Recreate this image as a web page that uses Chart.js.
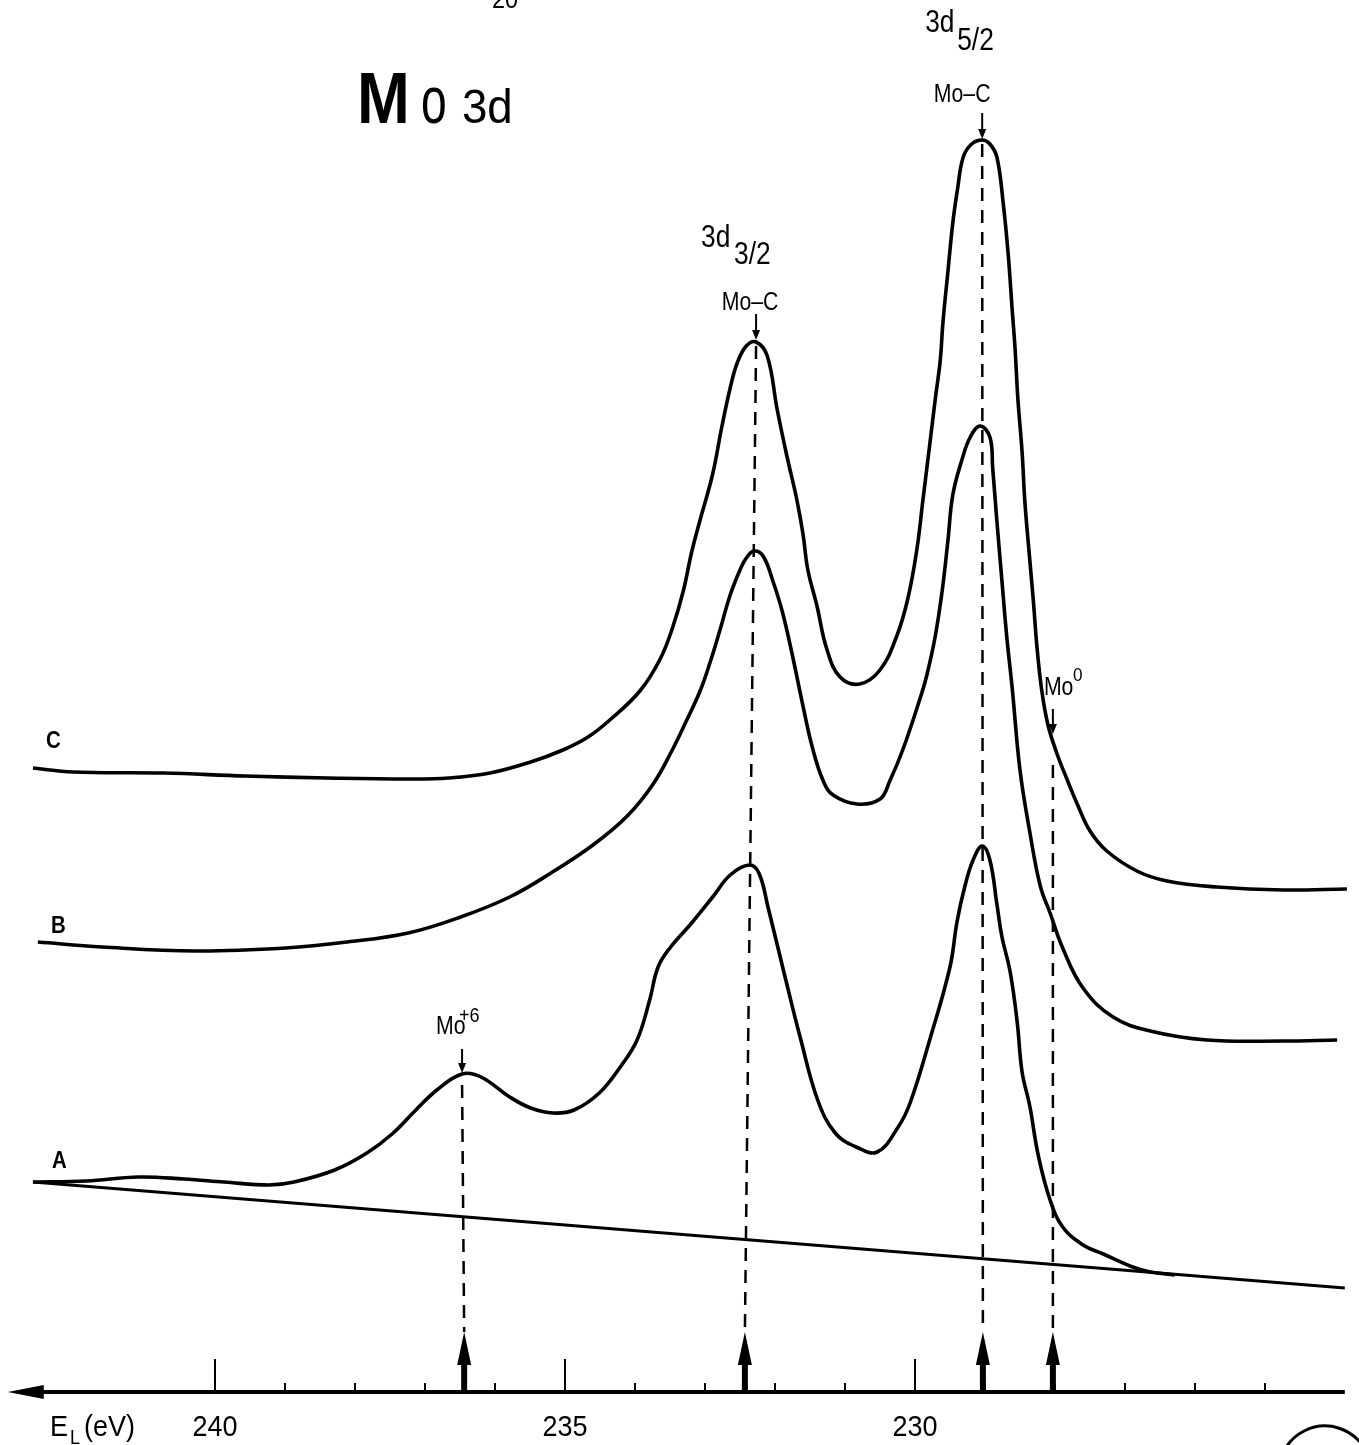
<!DOCTYPE html>
<html>
<head>
<meta charset="utf-8">
<title>Mo 3d</title>
<script src="https://cdn.jsdelivr.net/npm/chart.js@4.4.1/dist/chart.umd.min.js"></script>
<style>
  body { margin: 0; background: #fff; }
  #wrap { width: 1359px; height: 1445px; }
</style>
</head>
<body>
<div id="wrap"><canvas id="xps" width="1359" height="1445"></canvas></div>
<script>
// binding energy (eV) and intensity (arb. units, 0 = energy axis)
const energyC = [242.60, 242.03, 240.74, 239.57, 238.40, 237.24, 236.66, 236.07, 235.49, 235.03,
  234.67, 234.36, 233.93, 233.64, 233.46, 233.31, 233.19, 233.07, 232.89, 232.76,
  232.64, 232.54, 232.41, 232.27, 232.11, 231.97, 231.83, 231.69, 231.60, 231.53,
  231.40, 231.26, 231.07, 230.79, 230.50, 230.26, 230.10, 229.97, 229.89, 229.79,
  229.71, 229.64, 229.60, 229.53, 229.46, 229.39, 229.31, 229.19, 229.04, 228.93,
  228.83, 228.74, 228.67, 228.61, 228.57, 228.53, 228.47, 228.43, 228.36, 228.31,
  228.26, 228.19, 228.10, 227.97, 227.83, 227.67, 227.50, 227.26, 226.83, 226.40,
  225.69, 224.74, 223.83];
const countsC = [62.4, 62.0, 61.9, 61.6, 61.4, 61.3, 61.4, 61.9, 63.0, 64.2,
  65.5, 67.2, 70.1, 73.3, 76.5, 80.1, 84.0, 87.2, 91.8, 96.5,
  100.4, 102.9, 104.6, 105.0, 103.6, 98.3, 93.6, 89.3, 85.8, 82.2,
  78.6, 74.3, 71.5, 70.8, 72.2, 75.6, 79.4, 84.4, 89.0, 94.7,
  99.3, 103.1, 107.0, 112.0, 116.9, 120.4, 123.5, 124.8, 125.2, 124.8,
  123.5, 118.9, 113.9, 108.1, 104.3, 99.3, 94.0, 89.0, 83.2, 79.2,
  74.7, 70.2, 66.7, 63.8, 61.3, 58.6, 56.1, 54.1, 52.1, 51.1,
  50.5, 50.2, 50.3];

const energyB = [242.53, 241.61, 240.27, 238.99, 238.11, 237.24, 236.49, 235.79, 235.20, 234.60,
  234.11, 233.74, 233.46, 233.26, 233.07, 232.93, 232.79, 232.64, 232.50, 232.41,
  232.30, 232.17, 232.03, 231.89, 231.74, 231.60, 231.46, 231.31, 231.17, 230.83,
  230.50, 230.36, 230.17, 229.93, 229.83, 229.71, 229.61, 229.53, 229.46, 229.33,
  229.21, 229.07, 228.93, 228.89, 228.83, 228.76, 228.69, 228.61, 228.50, 228.36,
  228.21, 228.07, 227.89, 227.60, 227.17, 226.64, 225.83, 224.74, 223.97];
const countsB = [45.0, 44.5, 44.1, 44.4, 45.0, 45.9, 47.5, 49.5, 51.9, 54.7,
  57.6, 60.8, 64.3, 67.2, 70.1, 72.9, 76.1, 79.7, 82.2, 83.4,
  84.1, 83.6, 81.1, 77.9, 73.3, 68.6, 64.3, 61.1, 59.7, 58.8,
  59.3, 61.1, 64.3, 69.3, 71.7, 75.6, 80.2, 85.1, 89.7, 93.2,
  95.5, 96.6, 95.5, 92.4, 87.1, 81.3, 75.6, 70.3, 62.2, 56.0,
  50.6, 47.9, 44.4, 40.4, 37.5, 36.1, 35.2, 35.1, 35.2];

const energyA = [242.60, 241.84, 241.09, 240.44, 239.87, 239.23, 238.87, 238.29, 237.83, 237.47,
  237.13, 236.83, 236.47, 236.20, 235.79, 235.49, 235.17, 234.87, 234.51, 234.21,
  233.97, 233.79, 233.67, 233.49, 233.19, 232.89, 232.64, 232.37, 232.23, 232.10,
  231.87, 231.63, 231.39, 231.14, 230.84, 230.54, 230.24, 230.07, 229.79, 229.50,
  229.40, 229.29, 229.17, 229.04, 228.93, 228.83, 228.76, 228.64, 228.54, 228.47,
  228.36, 228.24, 228.07, 227.89, 227.60, 227.31, 226.89, 226.64, 226.29];
const countsA = [21.0, 21.1, 21.5, 21.3, 21.0, 20.7, 21.0, 22.2, 23.9, 25.8,
  28.2, 30.2, 31.8, 31.5, 29.5, 28.4, 27.9, 28.2, 29.9, 32.5,
  35.2, 39.2, 42.5, 44.5, 46.9, 49.5, 51.7, 52.7, 51.9, 48.5,
  41.9, 35.2, 29.2, 25.9, 24.5, 24.0, 26.5, 28.9, 35.2, 42.5,
  47.0, 50.5, 53.2, 54.6, 53.2, 48.8, 45.6, 42.0, 37.0, 32.0,
  28.6, 23.7, 19.2, 16.5, 14.7, 13.8, 12.5, 12.0, 11.7];

// linear background under spectrum A
const baseEnergy = [242.60, 223.86];
const baseCounts = [21.0, 10.4];

// marked components: energy of the arrow on the axis, and where the dashed guide starts
const peakNames = ['Mo+6', 'Mo-C 3d3/2', 'Mo-C 3d5/2', 'Mo0'];
const peakEnergy = [236.44, 232.43, 229.03, 228.03];
const peakTopEnergy = [236.47, 232.27, 229.04, 228.03];
const peakTopCounts = [30.7, 104.6, 124.8, 62.7];
const guideBottom = 6.0;

const tickValues = [240, 239, 238, 237, 236, 235, 234, 233, 232, 231, 230, 229, 228, 227, 226, 225];
const tickLabels = ['240', '235', '230'];
const labelValues = [240, 235, 230];

const toPoints = (xs, ys) => xs.map((x, i) => ({ x: x, y: ys[i] }));

function spectrum(label, xs, ys) {
  return {
    label: label,
    data: toPoints(xs, ys),
    borderColor: '#000',
    borderWidth: 3.6,
    pointRadius: 0,
    tension: 0.4,
    fill: false
  };
}

const datasets = [
  spectrum('C', energyC, countsC),
  spectrum('B', energyB, countsB),
  spectrum('A', energyA, countsA),
  {
    label: 'background',
    data: toPoints(baseEnergy, baseCounts),
    borderColor: '#000',
    borderWidth: 3,
    pointRadius: 0,
    tension: 0
  }
];

peakNames.forEach((name, i) => {
  datasets.push({
    label: name,
    data: [{ x: peakTopEnergy[i], y: peakTopCounts[i] }, { x: peakEnergy[i], y: guideBottom }],
    borderColor: '#000',
    borderWidth: 2.5,
    borderDash: [13, 9],
    pointRadius: 0,
    tension: 0
  });
});

function text(ctx, s, x, y, font, sx, align) {
  ctx.save();
  ctx.font = font;
  ctx.textAlign = align || 'left';
  ctx.textBaseline = 'alphabetic';
  ctx.translate(x, y);
  ctx.scale(sx, 1);
  ctx.fillText(s, 0, 0);
  ctx.restore();
}

function downArrow(ctx, x, yFrom, yTip) {
  ctx.lineWidth = 2;
  ctx.beginPath();
  ctx.moveTo(x, yFrom);
  ctx.lineTo(x, yTip - 8);
  ctx.stroke();
  ctx.beginPath();
  ctx.moveTo(x - 4, yTip - 10);
  ctx.lineTo(x + 4, yTip - 10);
  ctx.lineTo(x, yTip);
  ctx.closePath();
  ctx.fill();
}

const FONT = '"Liberation Sans", Arial, sans-serif';

const decorations = {
  id: 'decorations',
  afterDatasetsDraw(chart) {
    const ctx = chart.ctx;
    const xs = chart.scales.x;
    const ys = chart.scales.y;
    const y0 = ys.getPixelForValue(0);
    ctx.save();
    ctx.fillStyle = '#000';
    ctx.strokeStyle = '#000';

    // energy axis, arrow toward higher binding energy
    const xl = xs.getPixelForValue(242.96);
    const xr = xs.getPixelForValue(223.86);
    ctx.lineWidth = 4;
    ctx.beginPath();
    ctx.moveTo(xl + 30, y0);
    ctx.lineTo(xr, y0);
    ctx.stroke();
    ctx.beginPath();
    ctx.moveTo(xl, y0);
    ctx.lineTo(xl + 36, y0 - 7);
    ctx.lineTo(xl + 36, y0 + 7);
    ctx.closePath();
    ctx.fill();

    ctx.lineWidth = 2;
    tickValues.forEach(v => {
      const px = xs.getPixelForValue(v);
      const len = labelValues.includes(v) ? 33 : 9;
      ctx.beginPath();
      ctx.moveTo(px, y0);
      ctx.lineTo(px, y0 - len);
      ctx.stroke();
    });
    labelValues.forEach((v, i) => {
      text(ctx, tickLabels[i], xs.getPixelForValue(v), y0 + 44, '30px ' + FONT, 0.9, 'center');
    });
    text(ctx, 'E', 50, y0 + 44, '30px ' + FONT, 0.9);
    text(ctx, 'L', 70, y0 + 52, '20px ' + FONT, 0.9);
    text(ctx, '(eV)', 84, y0 + 44, '30px ' + FONT, 0.9);

    // thick arrows on the axis
    peakEnergy.forEach(e => {
      const px = xs.getPixelForValue(e);
      ctx.fillRect(px - 3, y0 - 28, 6, 28);
      ctx.beginPath();
      ctx.moveTo(px - 7, y0 - 27);
      ctx.lineTo(px + 7, y0 - 27);
      ctx.lineTo(px, y0 - 60);
      ctx.closePath();
      ctx.fill();
    });

    // peak labels
    const px0 = xs.getPixelForValue(peakTopEnergy[0]);
    const py0 = ys.getPixelForValue(peakTopCounts[0]);
    downArrow(ctx, px0, py0 - 36, py0 - 12);
    text(ctx, 'Mo', px0 - 26, py0 - 51, '25px ' + FONT, 0.85);
    text(ctx, '+6', px0 - 3, py0 - 63, '20px ' + FONT, 0.9);

    const px1 = xs.getPixelForValue(peakTopEnergy[1]);
    const py1 = ys.getPixelForValue(peakTopCounts[1]);
    downArrow(ctx, px1, py1 - 32, py1 - 6);
    text(ctx, 'Mo\u2013C', px1 - 6, py1 - 36, '25px ' + FONT, 0.85, 'center');
    text(ctx, '3d', px1 - 55, py1 - 99, '31px ' + FONT, 0.85);
    text(ctx, '3/2', px1 - 22, py1 - 82, '31px ' + FONT, 0.85);

    const px2 = xs.getPixelForValue(peakTopEnergy[2]);
    const py2 = ys.getPixelForValue(peakTopCounts[2]);
    downArrow(ctx, px2, py2 - 31, py2 - 5);
    text(ctx, 'Mo\u2013C', px2 - 20, py2 - 42, '25px ' + FONT, 0.85, 'center');
    text(ctx, '3d', px2 - 57, py2 - 112, '31px ' + FONT, 0.85);
    text(ctx, '5/2', px2 - 25, py2 - 94, '31px ' + FONT, 0.85);

    const px3 = xs.getPixelForValue(peakTopEnergy[3]);
    const py3 = ys.getPixelForValue(peakTopCounts[3]);
    downArrow(ctx, px3, py3 - 56, py3 - 31);
    text(ctx, 'Mo', px3 - 9, py3 - 70, '25px ' + FONT, 0.85);
    text(ctx, '0', px3 + 20, py3 - 84, '19px ' + FONT, 0.9);

    // spectrum names
    text(ctx, 'C', 46, ys.getPixelForValue(countsC[0]) - 20, 'bold 24px ' + FONT, 0.85);
    text(ctx, 'B', 51, ys.getPixelForValue(countsB[0]) - 9, 'bold 24px ' + FONT, 0.85);
    text(ctx, 'A', 52, ys.getPixelForValue(countsA[0]) - 14, 'bold 24px ' + FONT, 0.85);

    // title
    text(ctx, 'M', 357, 123, 'bold 72px ' + FONT, 0.88);
    text(ctx, 'o', 421, 123, '66px ' + FONT, 0.7);
    text(ctx, '3d', 462, 123, '48px ' + FONT, 0.95);

    // page furniture cut by the scan
    text(ctx, '20', 505, 8, '26px ' + FONT, 0.9, 'center');
    ctx.lineWidth = 3;
    ctx.beginPath();
    ctx.arc(1325, 1472, 46, Math.PI * 1.1, Math.PI * 1.9);
    ctx.stroke();
    ctx.restore();
  }
};

new Chart(document.getElementById('xps'), {
  type: 'line',
  data: { datasets: datasets },
  options: {
    responsive: false,
    animation: false,
    devicePixelRatio: 1,
    layout: { padding: 0 },
    plugins: { legend: { display: false }, tooltip: { enabled: false } },
    scales: {
      x: { type: 'linear', reverse: true, min: 223.657, max: 243.071, display: false },
      y: { type: 'linear', min: -5.3, max: 139.2, display: false }
    }
  },
  plugins: [decorations]
});
</script>
</body>
</html>
